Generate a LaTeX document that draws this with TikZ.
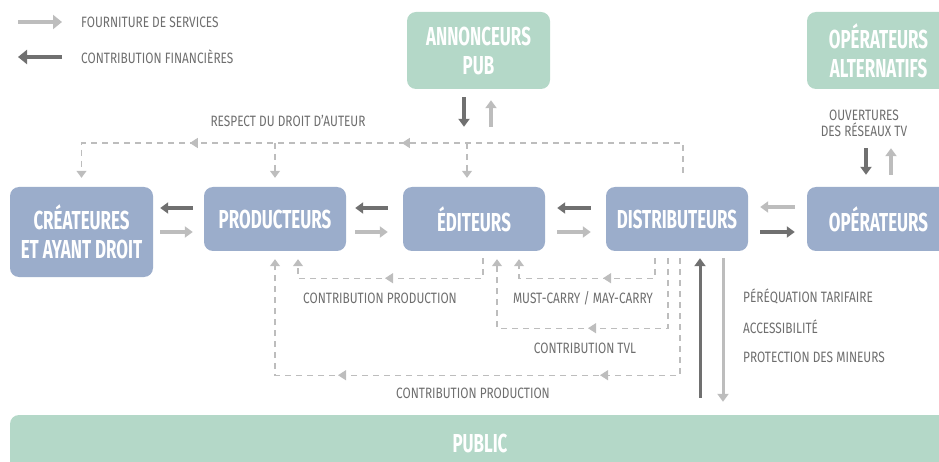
\documentclass[tikz,border=0pt]{standalone}
\usepackage{fontspec}
\setmainfont{Fira Sans}[FakeStretch=0.79]
\newfontfamily\boxfont{Fira Sans}[FakeStretch=0.65]
\usetikzlibrary{arrows.meta, positioning, calc, decorations.markings}
\definecolor{avBlue}{HTML}{9BADCB}
\definecolor{avGreen}{HTML}{B4D8C8}
\definecolor{avDark}{HTML}{707070}
\definecolor{avLight}{HTML}{BDBDBD}
\definecolor{avDash}{HTML}{BDBDBD}
\definecolor{avText}{HTML}{6E6E6E}
\tikzset{
  actor/.style={
    fill=avBlue, rounded corners=9pt, inner sep=0pt, align=center,
    font=\boxfont\bfseries\fontsize{26}{29}\selectfont, text=white,
    minimum width=142pt, minimum height=64pt
  },
  sponsor/.style={actor, fill=avGreen, minimum width=143pt, minimum height=77pt},
  lbl/.style={font=\fontsize{15}{16}\selectfont, text=avText, inner sep=0pt},
  flowd/.style={-{Triangle[length=8pt,width=11pt]}, line width=3.5pt, draw=avDark},
  flowl/.style={flowd, draw=avLight},
  dashflow/.style={draw=avDash, line width=1.2pt, dash pattern=on 6pt off 5pt},
  dashend/.style={-{Triangle[length=7pt,width=10pt]}},
  midtip/.style={postaction={decorate, decoration={markings,
      mark=at position #1 with {\arrow{Triangle[length=8pt,width=10pt]}}}}},
}

\begin{document}
\begin{tikzpicture}[x=1pt, y=-1pt]
  \useasboundingbox (0,0) rectangle (939,462);

  % legend
  \node[lbl, anchor=west] (leg1) at (81,22) {FOURNITURE DE SERVICES};
  \node[lbl, anchor=west] (leg2) at (81,57) {CONTRIBUTION FINANCIÈRES};
  \draw[flowl, line width=4.5pt, -{Triangle[length=9pt,width=14pt]}] ([xshift=-63pt]leg1.west) -- ([xshift=-19pt]leg1.west);
  \draw[flowd, line width=4.5pt, -{Triangle[length=9pt,width=14pt]}] ([xshift=-19pt]leg2.west) -- ([xshift=-63pt]leg2.west);

  % actors
  \node[actor, minimum width=143pt, minimum height=90pt] (crea) at (81.5,232) {CRÉATEURES\\ET AYANT DROIT};
  \node[actor] (prod) at (275,219) {PRODUCTEURS};
  \node[actor] (edit) at (474,219) {ÉDITEURS};
  \node[actor] (dist) at (677,219) {DISTRIBUTEURS};
  \node[actor, minimum width=143pt] (oper) at (878.5,219) {OPÉRATEURS};
  \node[sponsor] (annon) at (478.5,50.5) {ANNONCEURS\\PUB};
  \node[sponsor] (opalt) at (878.5,50.5) {OPÉRATEURS\\ALTERNATIFS};
  \node[sponsor, minimum width=940pt, minimum height=56pt] (public) at (480,443) {PUBLIC};

  % services / money between actors
  \draw[flowd, shorten <=11pt, shorten >=7pt] ([yshift=11pt]prod.west) -- ([yshift=24pt]crea.east);
  \draw[flowl, shorten <=7pt, shorten >=11pt] (crea.east) -- ([yshift=-13pt]prod.west);
  \draw[flowd, shorten <=15pt, shorten >=9pt] ([yshift=11pt]edit.west) -- ([yshift=11pt]prod.east);
  \draw[flowl, shorten <=9pt, shorten >=15pt] ([yshift=-13pt]prod.east) -- ([yshift=-13pt]edit.west);
  \draw[flowd, shorten <=15pt, shorten >=12pt] ([yshift=11pt]dist.west) -- ([yshift=11pt]edit.east);
  \draw[flowl, shorten <=12pt, shorten >=15pt] ([yshift=-13pt]edit.east) -- ([yshift=-13pt]dist.west);
  \draw[flowl, shorten <=12pt, shorten >=12pt] ([yshift=12pt]oper.west) -- ([yshift=12pt]dist.east);
  \draw[flowd, shorten <=12pt, shorten >=12pt] ([yshift=-13pt]dist.east) -- ([yshift=-13pt]oper.west);

  % advertisers and alternative operators
  \coordinate (ad) at ([xshift=-14.5pt]annon.south);
  \coordinate (au) at ([xshift=12.5pt]annon.south);
  \draw[flowd, shorten <=8pt, shorten >=60pt] (ad) -- (ad |- edit.north);
  \draw[flowl, shorten <=60pt, shorten >=11pt] (au |- edit.north) -- (au);
  \node[lbl, align=center] (ouv) at (864,123) {OUVERTURES\\DES RÉSEAUX TV};
  \coordinate (od) at ([xshift=-12.5pt]opalt.south);
  \coordinate (ou) at ([xshift=12.5pt]opalt.south);
  \draw[flowd, shorten <=59pt, shorten >=12pt] (od) -- (od |- oper.north);
  \draw[flowl, shorten <=12pt, shorten >=59pt] (ou |- oper.north) -- (ou);

  % public
  \coordinate (pu) at ([xshift=23pt]dist.south);
  \coordinate (pd) at ([xshift=46pt]dist.south);
  \draw[flowd, line width=3pt, shorten <=17pt, shorten >=7pt] (pu |- public.north) -- (pu);
  \draw[flowl, line width=3pt, shorten <=7pt, shorten >=13pt] (pd) -- (pd |- public.north);
  \node[lbl, anchor=west] (pereq) at (743,296) {PÉRÉQUATION TARIFAIRE};
  \node[lbl, anchor=west] (acces) at (743,327) {ACCESSIBILITÉ};
  \node[lbl, anchor=west] (mineur) at (743,357) {PROTECTION DES MINEURS};

  % copyright rail
  \coordinate (rail) at (0,143);
  \coordinate (t0) at ([xshift=6pt,yshift=14pt]dist.north);
  \coordinate (te) at ([xshift=-7pt,yshift=9pt]edit.north);
  \draw[dashflow, dashend, midtip=311pt, midtip=523pt] (t0) |- (crea.north |- rail) -- ([yshift=9pt]crea.north);
  \draw[dashflow, dashend] (prod.north |- rail) -- ([yshift=9pt]prod.north);
  \draw[dashflow, dashend] (te |- rail) -- (te);
  \node[lbl] (droit) at (288,121) {RESPECT DU DROIT D'AUTEUR};

  % contributions
  \coordinate (c1) at ([xshift=9pt,yshift=-7pt]edit.south);
  \coordinate (c1e) at ([xshift=23pt,yshift=-8pt]prod.south);
  \coordinate (c2) at ([xshift=-22pt,yshift=-7pt]dist.south);
  \coordinate (c2e) at ([xshift=45pt,yshift=-8pt]edit.south);
  \coordinate (c3) at ([xshift=-9pt,yshift=-7pt]dist.south);
  \coordinate (c3e) at ([xshift=23pt,yshift=-8pt]edit.south);
  \coordinate (c4) at ([xshift=3pt,yshift=-7pt]dist.south);
  \coordinate (c4e) at ([yshift=-8pt]prod.south);
  \draw[dashflow, dashend, midtip=118pt] (c1) -- ++(0,20) -| (c1e);
  \draw[dashflow, dashend, midtip=72pt] (c2) -- ++(0,20) -| (c2e);
  \draw[dashflow, dashend, midtip=150pt] (c3) -- ++(0,70) -| (c3e);
  \draw[dashflow, dashend, midtip=197pt, midtip=459pt] (c4) -- ++(0,117) -| (c4e);
  \node[lbl] (cprod) at (380,298) {CONTRIBUTION PRODUCTION};
  \node[lbl] (carry) at (583,298) {MUST-CARRY / MAY-CARRY};
  \node[lbl] (ctvl) at (585,348) {CONTRIBUTION TVL};
  \node[lbl] (cprod2) at (473,393) {CONTRIBUTION PRODUCTION};
\end{tikzpicture}
\end{document}
